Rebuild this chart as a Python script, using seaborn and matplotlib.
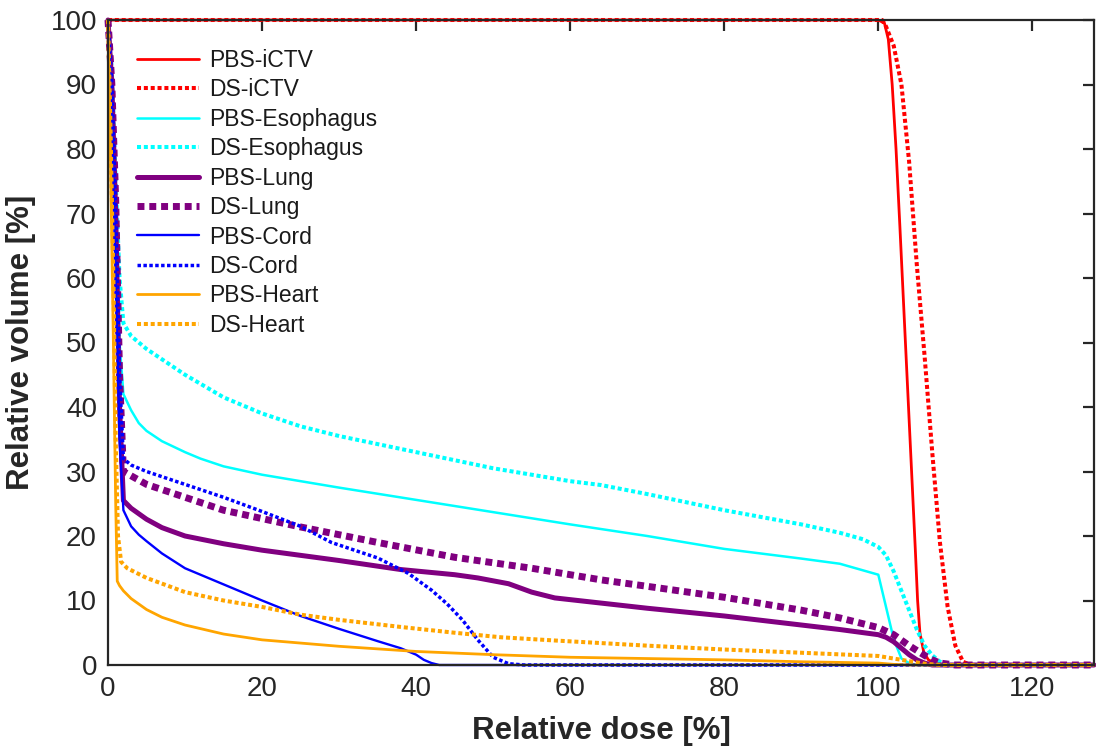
import numpy as np
import pandas as pd
import matplotlib
matplotlib.use("Agg")
import matplotlib.pyplot as plt
import seaborn as sns

# ---------------- data (relative dose [%], relative volume [%]) ----------------
pbs_ictv_x = [0, 100, 100.8, 101.3, 101.8, 102.3, 102.8, 103.2, 103.6, 104.0, 104.4, 104.8, 105.1, 105.4, 105.9, 106.5, 107.5, 109, 128]
pbs_ictv_y = [100, 100, 99.5, 97, 90, 80, 68, 58, 48, 38, 28, 18, 10, 5, 2, 0.8, 0.2, 0, 0]

ds_ictv_x = [0, 100.5, 101, 102, 103, 104, 105, 106, 107, 108, 109, 110, 111, 112, 128]
ds_ictv_y = [100, 100, 99, 96, 90, 78, 62, 48, 33, 19, 9, 3, 0.5, 0, 0]

pbs_eso_x = [0, 0.5, 1, 1.5, 2, 3, 4, 5, 7, 10, 12, 15, 20, 30, 40, 50, 60, 70, 80, 90, 95, 100, 101, 102, 103, 104, 105, 128]
pbs_eso_y = [100, 90, 70, 50, 42, 39.5, 37.5, 36.3, 34.7, 33, 32, 30.8, 29.5, 27.5, 25.6, 23.7, 21.8, 20, 18, 16.5, 15.7, 14, 9, 4, 1, 0.3, 0, 0]

ds_eso_x = [0, 0.5, 1, 1.5, 2, 3, 5, 10, 15, 20, 25, 30, 40, 50, 60, 64, 70, 80, 90, 95, 98, 100, 101, 102, 103, 104, 105, 106, 107, 108, 109, 128]
ds_eso_y = [100, 92, 75, 60, 53, 51, 49, 45, 41.5, 39, 37, 35.5, 33, 30.5, 28.5, 27.9, 26.5, 24, 21.8, 20.5, 19.5, 18.3, 17, 14.5, 11.5, 8.5, 5.5, 3, 1.5, 0.5, 0, 0]

pbs_lung_x = [0, 0.5, 1, 1.5, 2, 3, 5, 7, 10, 15, 20, 25, 30, 38, 45, 48, 52, 55, 58, 64, 70, 80, 90, 95, 100, 101, 102, 103, 104, 105, 106, 107, 128]
pbs_lung_y = [100, 90, 70, 40, 25.5, 24.3, 22.6, 21.3, 20, 18.8, 17.8, 17, 16.2, 14.8, 14, 13.5, 12.6, 11.3, 10.4, 9.6, 8.8, 7.6, 6.2, 5.5, 4.7, 4.3, 3.6, 2.6, 1.6, 0.8, 0.3, 0, 0]

ds_lung_x = [0, 0.5, 1, 1.5, 2, 5, 10, 15, 20, 25, 35, 45, 55, 64, 70, 80, 90, 95, 100, 102, 104, 106, 107, 108, 110, 128]
ds_lung_y = [100, 90, 72, 45, 30, 28, 26, 24, 22.7, 21.4, 19, 16.7, 15, 13.2, 12.2, 10.5, 8.5, 7.3, 5.8, 4.7, 3, 1.5, 0.8, 0.3, 0, 0]

pbs_cord_x = [0, 0.5, 1, 1.5, 2, 3, 4, 5, 7, 10, 15, 20, 25, 30, 35, 38, 40, 41, 42, 43, 128]
pbs_cord_y = [100, 85, 60, 35, 24, 21.5, 20.2, 19.2, 17.3, 15, 12.5, 10, 7.6, 5.6, 3.7, 2.6, 1.6, 0.8, 0.3, 0, 0]

ds_cord_x = [0, 0.5, 1, 1.5, 2, 3, 5, 10, 15, 20, 25, 29, 35, 39, 42, 44, 46, 48, 50, 52, 54, 128]
ds_cord_y = [100, 90, 70, 45, 32, 31, 30, 28, 26, 23.8, 21.5, 19, 16.6, 14.2, 11.6, 9.5, 7, 3.9, 1.2, 0.2, 0, 0]

pbs_heart_x = [0, 0.3, 0.7, 1, 1.2, 1.5, 2, 3, 5, 7, 10, 15, 20, 25, 30, 40, 50, 60, 70, 80, 90, 100, 102, 104, 128]
pbs_heart_y = [100, 80, 50, 25, 13, 12.3, 11.5, 10.3, 8.6, 7.4, 6.2, 4.8, 3.9, 3.4, 2.9, 2.1, 1.6, 1.2, 1.0, 0.8, 0.5, 0.3, 0.1, 0, 0]

ds_heart_x = [0, 0.3, 0.7, 1, 1.3, 1.7, 2.5, 5, 10, 15, 20, 25, 30, 38, 45, 51, 58, 64, 70, 80, 90, 100, 102, 104, 106, 108, 128]
ds_heart_y = [100, 85, 60, 35, 20, 16, 15, 13.5, 11.3, 10, 9, 7.8, 7.0, 5.9, 5, 4.3, 3.8, 3.4, 3.0, 2.4, 1.9, 1.4, 1.0, 0.6, 0.2, 0, 0]

labels = ["PBS-iCTV", "DS-iCTV", "PBS-Esophagus", "DS-Esophagus", "PBS-Lung",
          "DS-Lung", "PBS-Cord", "DS-Cord", "PBS-Heart", "DS-Heart"]
xs = [pbs_ictv_x, ds_ictv_x, pbs_eso_x, ds_eso_x, pbs_lung_x,
      ds_lung_x, pbs_cord_x, ds_cord_x, pbs_heart_x, ds_heart_x]
ys = [pbs_ictv_y, ds_ictv_y, pbs_eso_y, ds_eso_y, pbs_lung_y,
      ds_lung_y, pbs_cord_y, ds_cord_y, pbs_heart_y, ds_heart_y]

x_ticks = [0, 20, 40, 60, 80, 100, 120]
y_ticks = [0, 10, 20, 30, 40, 50, 60, 70, 80, 90, 100]

# ---------------- styles ----------------
colors = ["#ff0000", "#ff0000", "#00ffff", "#00ffff", "#800080",
          "#800080", "#0000ff", "#0000ff", "#ffa500", "#ffa500"]
widths = [2.0, 2.9, 1.8, 2.9, 3.6, 5.0, 1.7, 2.5, 2.0, 2.9]
dotted = (0, (1, 0.7))
styles = ["-", dotted] * 5

sns.set_theme(style="white")
plt.rcParams["font.family"] = ["Liberation Sans", "DejaVu Sans"]

frames = []
for lab, x, y in zip(labels, xs, ys):
    frames.append(pd.DataFrame({"dose": x, "volume": y, "series": lab}))
df = pd.concat(frames, ignore_index=True)

fig = plt.figure(figsize=(10.96, 7.56), dpi=100)
ax = fig.add_axes([108 / 1096, 1 - 665 / 756, (1094 - 108) / 1096, (665 - 20) / 756])

for lab, c, lw, ls in zip(labels, colors, widths, styles):
    sub = df[df["series"] == lab]
    sns.lineplot(data=sub, x="dose", y="volume", ax=ax, color=c, linewidth=lw,
                 linestyle=ls, label=lab, sort=False, estimator=None)

for line in ax.get_lines():
    line.set_clip_on(False)
    line.set_dash_capstyle("butt")

ax.set_xlim(0, 128)
ax.set_ylim(0, 100)
ax.set_xticks(x_ticks)
ax.set_yticks(y_ticks)
ax.set_xlabel("Relative dose [%]", fontsize=22.5, fontweight="bold", color="#262626", labelpad=10)
ax.set_ylabel("Relative volume [%]", fontsize=22.5, fontweight="bold", color="#262626", labelpad=10)
ax.tick_params(axis="both", which="both", direction="in", length=8, width=1.6,
               top=True, right=True, labelsize=20, colors="#262626", pad=8)
for s in ax.spines.values():
    s.set_color("#262626")
    s.set_linewidth(1.6)
    s.set_visible(True)

leg = ax.legend(loc="upper left", bbox_to_anchor=(137 / 1096, 1 - 49 / 756),
                bbox_transform=fig.transFigure, frameon=False, fontsize=16.5,
                handlelength=2.7, handletextpad=0.45, labelspacing=0.28,
                borderpad=0, borderaxespad=0)
for t in leg.get_texts():
    t.set_color("#1a1a1a")

fig.savefig("out.png", dpi=100)
